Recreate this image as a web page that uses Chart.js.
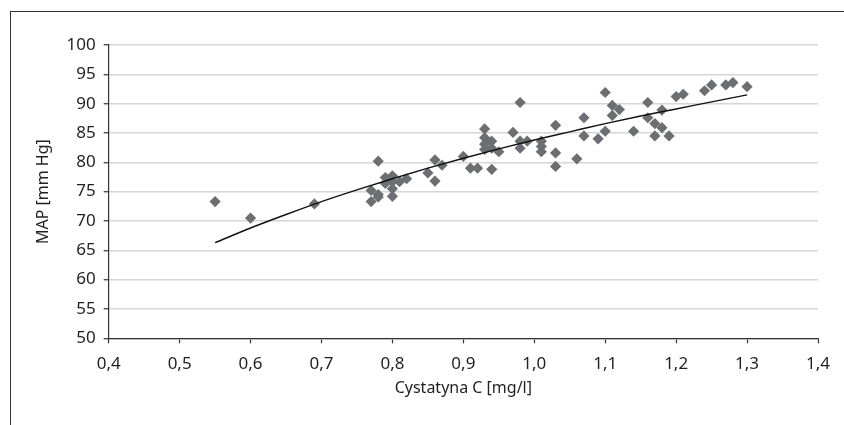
<!DOCTYPE html>
<html>
<head>
<meta charset="utf-8">
<script src="https://cdn.jsdelivr.net/npm/chart.js@4.4.1/dist/chart.umd.min.js"></script>
<style>
  html, body { margin: 0; padding: 0; background: #fff; overflow: hidden; }
  #wrap { position: relative; width: 844px; height: 425px; }
  #frame { position: absolute; left: 10px; top: 11px; width: 900px; height: 500px;
           border-left: 1.5px solid #333; border-top: 1.5px solid #333; box-sizing: border-box; }
  canvas { position: absolute; left: 0; top: 0; }
</style>
</head>
<body>
<div id="wrap">
  <div id="frame"></div>
  <canvas id="c" width="844" height="425"></canvas>
</div>
<script>
const cystatinC = [
  0.55, 0.60, 0.69, 0.77, 0.77, 0.78, 0.78, 0.78, 0.79, 0.79,
  0.80, 0.80, 0.80, 0.80, 0.81, 0.82, 0.85, 0.86, 0.86, 0.87,
  0.90, 0.91, 0.92, 0.93, 0.93, 0.93, 0.93, 0.94, 0.94, 0.94,
  0.95, 0.97, 0.98, 0.98, 0.98, 0.99, 1.01, 1.01, 1.01, 1.03,
  1.03, 1.03, 1.06, 1.07, 1.07, 1.09, 1.10, 1.10, 1.11, 1.11,
  1.12, 1.14, 1.16, 1.16, 1.17, 1.17, 1.18, 1.18, 1.19, 1.20,
  1.21, 1.24, 1.25, 1.27, 1.28, 1.30
];
const mapValues = [
  73.3, 70.5, 72.9, 75.2, 73.3, 80.2, 74.1, 74.5, 77.4, 76.4,
  77.7, 76.7, 75.5, 74.2, 76.7, 77.2, 78.2, 80.4, 76.8, 79.5,
  81.0, 79.0, 79.0, 85.7, 84.2, 83.1, 82.2, 83.6, 82.4, 78.8,
  81.8, 85.1, 90.2, 83.6, 82.4, 83.6, 83.6, 82.7, 81.8, 86.3,
  81.6, 79.3, 80.6, 87.6, 84.5, 84.0, 91.9, 85.3, 89.7, 88.0,
  89.0, 85.3, 90.2, 87.6, 86.6, 84.5, 88.9, 85.9, 84.5, 91.2,
  91.6, 92.2, 93.2, 93.2, 93.6, 92.9
];
// Trend line
const trendX = [0.55, 0.60, 0.65, 0.70, 0.75, 0.80, 0.85, 0.90, 0.95, 1.00, 1.05, 1.10, 1.15, 1.20, 1.25, 1.30];
const trendY = [66.3, 68.8, 71.1, 73.3, 75.3, 77.2, 79.0, 80.7, 82.3, 83.8, 85.2, 86.6, 87.9, 89.1, 90.3, 91.5];

const xTitle = 'Cystatyna C [mg/l]';
const yTitle = 'MAP [mm Hg]';

const FONT = 'Noto Sans';
const TXT = '#231f20';
const AX = '#333333';

const points = cystatinC.map((x, i) => ({ x: x, y: mapValues[i] }));
const trend = trendX.map((x, i) => ({ x: x, y: trendY[i] }));

new Chart(document.getElementById('c'), {
  type: 'scatter',
  data: {
    datasets: [
      {
        data: points,
        pointStyle: 'rectRot',
        pointRadius: 5.6,
        backgroundColor: '#6d6e71',
        borderColor: '#6d6e71',
        borderWidth: 0,
        order: 2
      },
      {
        data: trend,
        showLine: true,
        pointRadius: 0,
        borderColor: '#111111',
        borderWidth: 1.4,
        cubicInterpolationMode: 'monotone',
        fill: false,
        order: 1
      }
    ]
  },
  options: {
    responsive: false,
    animation: false,
    devicePixelRatio: 1,
    layout: { padding: { top: 45, right: 26, left: 0, bottom: 0 } },
    plugins: { legend: { display: false }, tooltip: { enabled: false } },
    scales: {
      x: {
        type: 'linear',
        min: 0.4, max: 1.4,
        afterFit: (s) => { s.height = 86.7; },
        ticks: {
          stepSize: 0.1,
          autoSkip: false,
          maxRotation: 0,
          padding: 11,
          color: TXT,
          font: { family: FONT, size: 17 },
          callback: (v) => v.toFixed(1).replace('.', ',')
        },
        grid: { drawOnChartArea: false, tickLength: 5, tickColor: AX, tickWidth: 1.2 },
        border: { color: AX, width: 1.2 },
        title: {
          display: true, text: xTitle, color: TXT,
          font: { family: FONT, size: 16 },
          padding: { top: 0, bottom: 27.4 }
        }
      },
      y: {
        min: 50, max: 100,
        afterFit: (s) => { s.width = 108.7; },
        ticks: {
          stepSize: 5,
          padding: 8,
          color: TXT,
          font: { family: FONT, size: 17 }
        },
        grid: { color: '#d6d6d6', lineWidth: 1.5, tickLength: 5, tickColor: AX, tickWidth: 1.2 },
        border: { color: AX, width: 1.2 },
        title: {
          display: true, text: yTitle, color: TXT,
          font: { family: FONT, size: 16 },
          padding: { top: 33.4, bottom: 0 }
        }
      }
    }
  }
});
</script>
</body>
</html>
